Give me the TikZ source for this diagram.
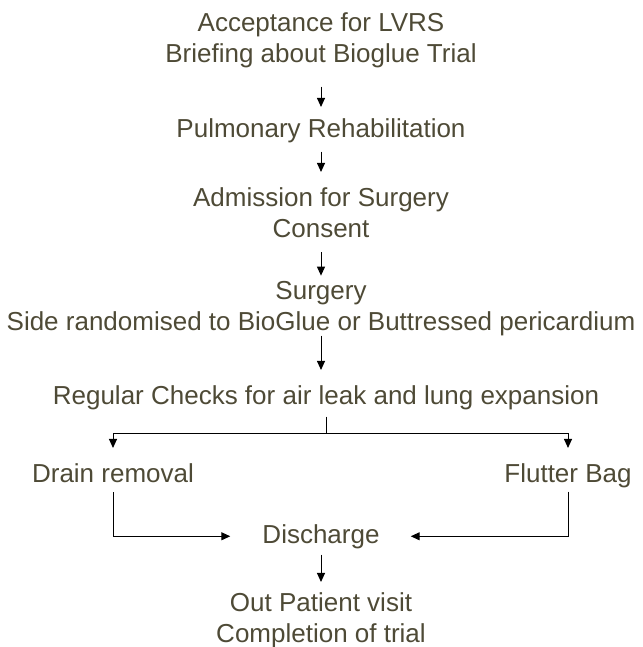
\documentclass[tikz,border=0pt]{standalone}
\usepackage{fontspec}
\setmainfont{Liberation Sans}
\usetikzlibrary{arrows.meta}
\definecolor{olivetext}{HTML}{4E4A36}

\begin{document}
\begin{tikzpicture}[x=1pt,y=-1pt,
  stage/.style={inner sep=0pt,anchor=base,align=center,text=olivetext,
                font=\fontsize{26}{31}\selectfont},
  flow/.style={-{Triangle[length=9pt,width=8pt]},line width=1pt,black}]
  \useasboundingbox (0,0) rectangle (642,647);

  % stages, placed at the baseline of their last line
  \node[stage] (accept) at (321,63) {Acceptance for LVRS\\Briefing about Bioglue Trial};
  \node[stage] (rehab) at (321,138) {Pulmonary Rehabilitation};
  \node[stage] (admit) at (321,237) {Admission for Surgery\\Consent};
  \node[stage] (surgery) at (321,330) {Surgery\\Side randomised to BioGlue or Buttressed pericardium};
  \node[stage] (checks) at (326,404) {Regular Checks for air leak and lung expansion};
  \node[stage] (drain) at (113,482) {Drain removal};
  \node[stage] (flutter) at (568,482) {Flutter Bag};
  \node[stage] (discharge) at (321,543) {Discharge};
  \node[stage] (outpt) at (321,642) {Out Patient visit\\Completion of trial};
  \coordinate (split) at (326,433);

  \draw[flow,shorten <=18pt,shorten >=12pt] (accept.south) -- (rehab.north);
  \draw[flow,shorten <=8pt,shorten >=15pt] (rehab.south) -- (admit.north);
  \draw[flow,shorten <=15pt,shorten >=5pt] (admit.south) -- (surgery.north);
  \draw[flow,shorten >=15pt] (surgery.south) -- (surgery.south |- checks.north);

  % branch to the two ways out
  \draw[line width=1pt,shorten <=7pt] (checks.south) -- (split);
  \draw[flow,shorten >=15pt] (split) -| (drain.north);
  \draw[flow,shorten >=15pt] (split) -| (flutter.north);
  \draw[flow,shorten <=10pt,shorten >=32pt] (drain.south) |- (discharge.west);
  \draw[flow,shorten <=4pt,shorten >=31pt] (flutter.south) |- (discharge.east);

  \draw[flow,shorten <=6pt,shorten >=10pt] (discharge.south) -- (outpt.north);
\end{tikzpicture}
\end{document}
